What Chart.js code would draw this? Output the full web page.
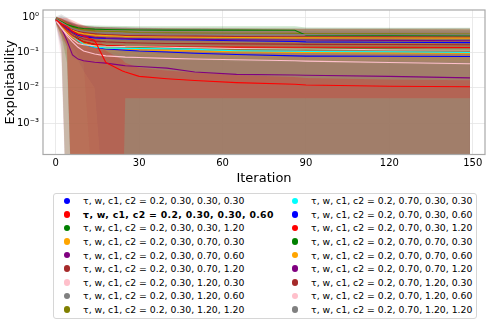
<!DOCTYPE html>
<html>
<head>
<meta charset="utf-8">
<script src="https://cdn.jsdelivr.net/npm/chart.js@4.4.0/dist/chart.umd.min.js"></script>
<style>
  body { margin: 0; background: #fff; font-family: "DejaVu Sans", sans-serif; }
  #wrap { position: relative; width: 488px; height: 323px; overflow: hidden; }
  #c { position: absolute; left: 0; top: 0; }
  #legend {
    position: absolute; left: 53px; top: 193px; width: 422px; height: 124px;
    border: 1px solid #d6d6d6; border-radius: 3px; background: #fff;
    display: grid; grid-template-columns: 228px 194px; grid-template-rows: repeat(9, 13.6px);
    grid-auto-flow: column; font-size: 9.3px; color: #000;
  }
  .item { display: flex; align-items: center; white-space: nowrap; }
  .dot { width: 6.6px; height: 6.6px; border-radius: 50%; margin-left: 9.5px; margin-right: 13px; flex: none; }
  .bold { font-weight: bold; letter-spacing: 0.35px; }
</style>
</head>
<body>
<div id="wrap">
  <canvas id="c" width="488" height="190"></canvas>
  <div id="legend"></div>
</div>
<script>
const iterations = [0, 2, 4, 6, 8, 10, 14, 18, 24, 25, 30, 40, 50, 65, 86, 90, 120, 149];

const xTicks = [0, 30, 60, 90, 120, 150];
const yTicks = [1e-3, 1e-2, 1e-1, 1];
const yTickLabels = ['10⁻³', '10⁻²', '10⁻¹', '10⁰'];

const seriesLabels = [
  'τ, w, c1, c2 = 0.2, 0.30, 0.30, 0.30',
  'τ, w, c1, c2 = 0.2, 0.30, 0.30, 0.60',
  'τ, w, c1, c2 = 0.2, 0.30, 0.30, 1.20',
  'τ, w, c1, c2 = 0.2, 0.30, 0.70, 0.30',
  'τ, w, c1, c2 = 0.2, 0.30, 0.70, 0.60',
  'τ, w, c1, c2 = 0.2, 0.30, 0.70, 1.20',
  'τ, w, c1, c2 = 0.2, 0.30, 1.20, 0.30',
  'τ, w, c1, c2 = 0.2, 0.30, 1.20, 0.60',
  'τ, w, c1, c2 = 0.2, 0.30, 1.20, 1.20',
  'τ, w, c1, c2 = 0.2, 0.70, 0.30, 0.30',
  'τ, w, c1, c2 = 0.2, 0.70, 0.30, 0.60',
  'τ, w, c1, c2 = 0.2, 0.70, 0.30, 1.20',
  'τ, w, c1, c2 = 0.2, 0.70, 0.70, 0.30',
  'τ, w, c1, c2 = 0.2, 0.70, 0.70, 0.60',
  'τ, w, c1, c2 = 0.2, 0.70, 0.70, 1.20',
  'τ, w, c1, c2 = 0.2, 0.70, 1.20, 0.30',
  'τ, w, c1, c2 = 0.2, 0.70, 1.20, 0.60',
  'τ, w, c1, c2 = 0.2, 0.70, 1.20, 1.20'
];
const seriesColors = [
  '#0000ff', '#ff0000', '#008000', '#ffa500', '#800080', '#a52a2a', '#ffc0cb', '#808080', '#808000',
  '#00ffff', '#0000ff', '#ff0000', '#008000', '#ffa500', '#800080', '#a52a2a', '#ffc0cb', '#808080'
];
const boldSeries = 1;

// mean exploitability per run
const mean_030_030_030 = [0.85, 0.6, 0.42, 0.3, 0.24, 0.17, 0.14, 0.125, 0.117, 0.116, 0.11, 0.103, 0.095, 0.088, 0.08, 0.079, 0.078, 0.077];
const mean_030_030_060 = [0.85, 0.65, 0.55, 0.4, 0.33, 0.29, 0.22, 0.052, 0.03, 0.028, 0.021, 0.018, 0.016, 0.014, 0.0125, 0.012, 0.011, 0.0107];
const mean_030_030_120 = [0.85, 0.6, 0.4, 0.3, 0.25, 0.2, 0.17, 0.155, 0.147, 0.146, 0.14, 0.135, 0.13, 0.128, 0.125, 0.124, 0.122, 0.12];
const mean_030_070_030 = [0.8, 0.55, 0.38, 0.28, 0.22, 0.18, 0.15, 0.135, 0.128, 0.127, 0.12, 0.115, 0.11, 0.105, 0.1, 0.1, 0.097, 0.095];
const mean_030_070_060 = [0.8, 0.5, 0.22, 0.085, 0.065, 0.058, 0.053, 0.05, 0.043, 0.042, 0.04, 0.036, 0.028, 0.024, 0.023, 0.0225, 0.021, 0.019];
const mean_030_070_120 = [0.85, 0.7, 0.55, 0.45, 0.4, 0.37, 0.34, 0.32, 0.305, 0.3, 0.3, 0.29, 0.29, 0.285, 0.28, 0.28, 0.28, 0.275];
const mean_030_120_030 = [0.8, 0.5, 0.3, 0.2, 0.14, 0.11, 0.09, 0.08, 0.075, 0.074, 0.072, 0.068, 0.065, 0.062, 0.058, 0.057, 0.052, 0.048];
const mean_030_120_060 = [0.8, 0.6, 0.45, 0.35, 0.3, 0.28, 0.26, 0.25, 0.245, 0.244, 0.24, 0.235, 0.23, 0.228, 0.225, 0.224, 0.222, 0.22];
const mean_030_120_120 = [0.9, 0.75, 0.6, 0.52, 0.47, 0.44, 0.41, 0.4, 0.385, 0.383, 0.37, 0.36, 0.355, 0.35, 0.35, 0.34, 0.34, 0.335];
const mean_070_030_030 = [0.85, 0.6, 0.42, 0.3, 0.22, 0.17, 0.14, 0.135, 0.131, 0.13, 0.13, 0.128, 0.122, 0.112, 0.108, 0.107, 0.105, 0.1];
const mean_070_030_060 = [0.85, 0.65, 0.48, 0.37, 0.31, 0.28, 0.26, 0.25, 0.242, 0.24, 0.235, 0.23, 0.225, 0.215, 0.205, 0.2, 0.195, 0.19];
const mean_070_030_120 = [0.85, 0.6, 0.42, 0.3, 0.24, 0.2, 0.17, 0.16, 0.152, 0.15, 0.148, 0.145, 0.143, 0.142, 0.14, 0.14, 0.14, 0.138];
const mean_070_070_030 = [0.9, 0.75, 0.62, 0.55, 0.5, 0.48, 0.46, 0.45, 0.44, 0.44, 0.435, 0.43, 0.43, 0.43, 0.425, 0.31, 0.305, 0.3];
const mean_070_070_060 = [0.85, 0.7, 0.52, 0.42, 0.37, 0.34, 0.31, 0.3, 0.287, 0.285, 0.28, 0.275, 0.27, 0.265, 0.26, 0.26, 0.258, 0.255];
const mean_070_070_120 = [0.85, 0.65, 0.5, 0.4, 0.33, 0.3, 0.27, 0.26, 0.252, 0.25, 0.245, 0.24, 0.235, 0.23, 0.225, 0.225, 0.22, 0.215];
const mean_070_120_030 = [0.85, 0.62, 0.45, 0.35, 0.28, 0.24, 0.21, 0.2, 0.192, 0.19, 0.185, 0.18, 0.178, 0.175, 0.172, 0.17, 0.168, 0.165];
const mean_070_120_060 = [0.85, 0.5, 0.33, 0.24, 0.18, 0.165, 0.155, 0.15, 0.147, 0.146, 0.145, 0.14, 0.135, 0.13, 0.125, 0.125, 0.12, 0.118];
const mean_070_120_120 = [0.9, 0.72, 0.58, 0.48, 0.43, 0.4, 0.37, 0.36, 0.347, 0.345, 0.34, 0.335, 0.33, 0.325, 0.32, 0.32, 0.318, 0.315];

// standard deviation per run (shaded band = mean ± std)
const std_030_030_030 = [0.15, 0.3, 0.3, 0.32, 0.26, 0.2, 0.17, 0.16, 0.15, 0.15, 0.14, 0.13, 0.12, 0.11, 0.1, 0.1, 0.1, 0.1];
const std_030_030_060 = [0.15, 0.3, 0.4, 0.42, 0.35, 0.3, 0.23, 0.06, 0.032, 0.023, 0.016, 0.013, 0.011, 0.009, 0.0075, 0.007, 0.006, 0.0057];
const std_030_030_120 = [0.15, 0.3, 0.35, 0.32, 0.27, 0.22, 0.19, 0.18, 0.17, 0.17, 0.16, 0.16, 0.15, 0.15, 0.15, 0.15, 0.15, 0.15];
const std_030_070_030 = [0.15, 0.35, 0.4, 0.3, 0.25, 0.2, 0.17, 0.16, 0.15, 0.15, 0.14, 0.13, 0.13, 0.12, 0.12, 0.12, 0.11, 0.11];
const std_030_070_060 = [0.15, 0.35, 0.25, 0.1, 0.08, 0.07, 0.06, 0.06, 0.05, 0.05, 0.05, 0.04, 0.035, 0.03, 0.03, 0.03, 0.025, 0.025];
const std_030_070_120 = [0.15, 0.2, 0.25, 0.25, 0.22, 0.2, 0.2, 0.2, 0.2, 0.2, 0.2, 0.2, 0.2, 0.2, 0.2, 0.2, 0.2, 0.2];
const std_030_120_030 = [0.15, 0.45, 0.32, 0.22, 0.16, 0.13, 0.11, 0.1, 0.09, 0.09, 0.09, 0.08, 0.08, 0.08, 0.07, 0.07, 0.07, 0.06];
const std_030_120_060 = [0.15, 0.5, 0.46, 0.36, 0.31, 0.29, 0.27, 0.26, 0.25, 0.25, 0.25, 0.24, 0.24, 0.23, 0.23, 0.23, 0.23, 0.23];
const std_030_120_120 = [0.15, 0.15, 0.12, 0.12, 0.12, 0.12, 0.12, 0.12, 0.12, 0.12, 0.12, 0.12, 0.12, 0.12, 0.12, 0.12, 0.12, 0.12];
const std_070_030_030 = [0.15, 0.3, 0.42, 0.31, 0.23, 0.18, 0.15, 0.14, 0.14, 0.14, 0.14, 0.13, 0.13, 0.12, 0.11, 0.11, 0.11, 0.11];
const std_070_030_060 = [0.15, 0.25, 0.3, 0.3, 0.25, 0.25, 0.25, 0.25, 0.25, 0.24, 0.24, 0.23, 0.23, 0.22, 0.21, 0.2, 0.2, 0.2];
const std_070_030_120 = [0.15, 0.3, 0.35, 0.31, 0.25, 0.21, 0.18, 0.17, 0.16, 0.16, 0.16, 0.15, 0.15, 0.15, 0.15, 0.15, 0.15, 0.15];
const std_070_070_030 = [0.15, 0.13, 0.12, 0.12, 0.12, 0.12, 0.12, 0.12, 0.12, 0.12, 0.12, 0.125, 0.125, 0.125, 0.125, 0.2, 0.2, 0.2];
const std_070_070_060 = [0.15, 0.2, 0.2, 0.2, 0.2, 0.2, 0.2, 0.2, 0.2, 0.2, 0.2, 0.2, 0.2, 0.2, 0.2, 0.2, 0.2, 0.2];
const std_070_070_120 = [0.15, 0.25, 0.25, 0.25, 0.25, 0.25, 0.27, 0.26, 0.26, 0.26, 0.25, 0.25, 0.24, 0.24, 0.23, 0.23, 0.23, 0.22];
const std_070_120_030 = [0.15, 0.3, 0.3, 0.36, 0.29, 0.25, 0.22, 0.21, 0.2, 0.2, 0.19, 0.19, 0.18, 0.18, 0.18, 0.18, 0.17, 0.17];
const std_070_120_060 = [0.15, 0.3, 0.34, 0.25, 0.19, 0.17, 0.16, 0.16, 0.15, 0.15, 0.15, 0.15, 0.14, 0.14, 0.13, 0.13, 0.13, 0.12];
const std_070_120_120 = [0.15, 0.5, 0.4, 0.25, 0.2, 0.18, 0.17, 0.17, 0.17, 0.17, 0.17, 0.17, 0.17, 0.17, 0.17, 0.17, 0.17, 0.17];

const means = [mean_030_030_030, mean_030_030_060, mean_030_030_120, mean_030_070_030, mean_030_070_060, mean_030_070_120,
  mean_030_120_030, mean_030_120_060, mean_030_120_120, mean_070_030_030, mean_070_030_060, mean_070_030_120,
  mean_070_070_030, mean_070_070_060, mean_070_070_120, mean_070_120_030, mean_070_120_060, mean_070_120_120];
const stds = [std_030_030_030, std_030_030_060, std_030_030_120, std_030_070_030, std_030_070_060, std_030_070_120,
  std_030_120_030, std_030_120_060, std_030_120_120, std_070_030_030, std_070_030_060, std_070_030_120,
  std_070_070_030, std_070_070_060, std_070_070_120, std_070_120_030, std_070_120_060, std_070_120_120];

// stacking of the shaded bands, bottom first
const bandStack = [0, 4, 9, 10, 14, 12, 8, 13, 17, 5, 11, 16, 6, 15, 2, 3, 7, 1];

const FONT = '"DejaVu Sans", sans-serif';
const logFloor = 1e-6; // mean - std below zero is off the log axis

function rgba(hex, a) {
  const n = parseInt(hex.slice(1), 16);
  return `rgba(${(n >> 16) & 255}, ${(n >> 8) & 255}, ${n & 255}, ${a})`;
}

const datasets = [];
seriesLabels.forEach((label, i) => {
  const m = means[i], s = stds[i];
  const upIdx = datasets.length;
  const rank = bandStack.indexOf(i);
  datasets.push({
    data: iterations.map((x, k) => ({ x, y: m[k] + s[k] })),
    borderWidth: 0, pointRadius: 0, backgroundColor: rgba(seriesColors[i], 0.2),
    fill: upIdx + 1, order: 200 - rank
  });
  datasets.push({
    data: iterations.map((x, k) => ({ x, y: Math.max(m[k] - s[k], logFloor) })),
    borderWidth: 0, pointRadius: 0, fill: false, order: 200 - rank
  });
});
seriesLabels.forEach((label, i) => {
  datasets.push({
    label,
    data: iterations.map((x, k) => ({ x, y: means[i][k] })),
    borderColor: seriesColors[i], borderWidth: 1.1, pointRadius: 0, fill: false,
    order: i === boldSeries ? 10 : 50 - i
  });
});

const framePlugin = {
  id: 'frame',
  afterDraw(chart) {
    const { ctx, chartArea: a } = chart;
    ctx.save();
    ctx.strokeStyle = '#a8a8a8';
    ctx.lineWidth = 1.2;
    ctx.strokeRect(a.left, a.top, a.right - a.left, a.bottom - a.top);
    ctx.restore();
  }
};

new Chart(document.getElementById('c').getContext('2d'), {
  type: 'line',
  data: { datasets },
  plugins: [framePlugin],
  options: {
    responsive: false,
    animation: false,
    layout: { padding: { top: 3, right: 3, left: 0, bottom: 0 } },
    plugins: { legend: { display: false }, tooltip: { enabled: false } },
    elements: { line: { tension: 0 } },
    scales: {
      x: {
        type: 'linear', min: -4.6, max: 154.4,
        afterBuildTicks: s => { s.ticks = xTicks.map(v => ({ value: v })); },
        afterFit: s => { s.height = 35.5; },
        ticks: { font: { family: FONT, size: 10 }, color: '#000', padding: 3, maxRotation: 0 },
        grid: { color: '#e4e4e4', lineWidth: 0.8, drawTicks: false },
        border: { display: false },
        title: { display: true, text: 'Iteration', color: '#000', font: { family: FONT, size: 13 }, padding: { top: 0, bottom: 4 } }
      },
      y: {
        type: 'logarithmic', min: 1.28e-4, max: 1.6,
        afterBuildTicks: s => { s.ticks = yTicks.map(v => ({ value: v })); },
        afterFit: s => { s.width = 43; },
        ticks: {
          font: { family: FONT, size: 10 }, color: '#000', padding: 4,
          callback: (v, idx) => yTickLabels[idx]
        },
        grid: { color: '#e4e4e4', lineWidth: 0.8, drawTicks: false },
        border: { display: false },
        title: { display: true, text: 'Exploitability', color: '#000', font: { family: FONT, size: 13 }, padding: 3 }
      }
    }
  }
});

// legend, column-major like the original figure
const legend = document.getElementById('legend');
seriesLabels.forEach((label, i) => {
  const item = document.createElement('div');
  item.className = 'item' + (i === boldSeries ? ' bold' : '');
  const dot = document.createElement('span');
  dot.className = 'dot';
  dot.style.background = seriesColors[i];
  const txt = document.createElement('span');
  txt.textContent = label;
  item.appendChild(dot);
  item.appendChild(txt);
  legend.appendChild(item);
});
</script>
</body>
</html>
